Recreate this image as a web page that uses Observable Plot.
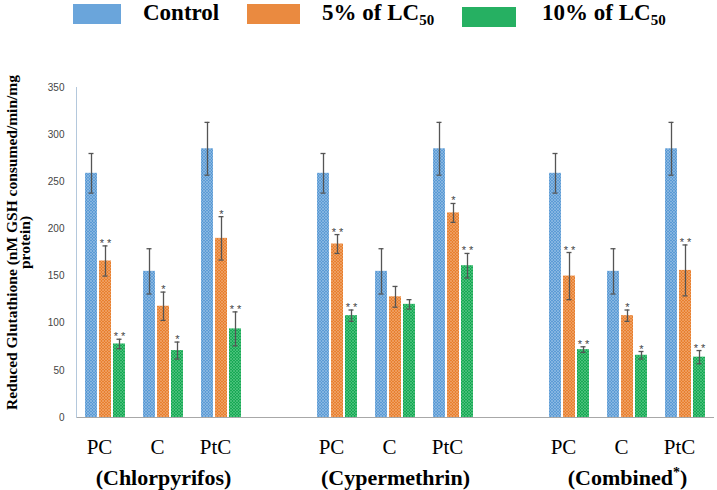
<!DOCTYPE html>
<html>
<head>
<meta charset="utf-8">
<script src="https://cdn.jsdelivr.net/npm/d3@7"></script>
<script src="https://cdn.jsdelivr.net/npm/@observablehq/plot@0.6"></script>
<style>
  html, body { margin: 0; padding: 0; background: #fff; }
  #wrap { width: 717px; height: 490px; position: relative; overflow: hidden; }
  #legend { position: relative; width: 717px; height: 35px; font-family: "Liberation Serif", serif; font-weight: bold; font-size: 23px; color: #000; }
  #legend .sw { position: absolute; width: 50px; height: 20px; }
  #legend .lb { position: absolute; top: 0px; line-height: 26px; white-space: nowrap; }
  #legend sub { font-size: 15px; vertical-align: -5px; line-height: 0; }
</style>
</head>
<body>
<svg width="0" height="0" style="position:absolute">
  <defs>
    <pattern id="pat0" width="3" height="3" patternUnits="userSpaceOnUse">
      <rect width="3" height="3" fill="#5b9bd5"/>
      <path d="M0,0L3,3M0,3L3,0" stroke="#9cc3e8" stroke-width="0.6"/>
    </pattern>
    <pattern id="pat1" width="3" height="3" patternUnits="userSpaceOnUse">
      <rect width="3" height="3" fill="#e8802f"/>
      <path d="M0,0L3,3M0,3L3,0" stroke="#f2ad78" stroke-width="0.6"/>
    </pattern>
    <pattern id="pat2" width="3" height="3" patternUnits="userSpaceOnUse">
      <rect width="3" height="3" fill="#17a954"/>
      <path d="M0,0L3,3M0,3L3,0" stroke="#5fcb8c" stroke-width="0.6"/>
    </pattern>
  </defs>
</svg>
<div id="wrap">
  <div id="legend"></div>
  <div id="chart"></div>
</div>
<script>
// ---- data ----
const groups = ["Chlorpyrifos", "Cypermethrin", "Combined"];
const treatments = ["PC", "C", "PtC"];
const seriesNames = ["Control", "5% of LC50", "10% of LC50"];
const seriesColors = ["#6aa5db", "#ea8a40", "#26b062"];
const seriesFills = ["url(#pat0)", "url(#pat1)", "url(#pat2)"];
const yTicks = [0, 50, 100, 150, 200, 250, 300, 350];

const controlMean = [259, 155, 285];
const controlErr = [21, 24, 28];

const chlor5Mean = [166, 118, 190];
const chlor5Err = [16, 15, 23];
const chlor5Star = ["* *", "*", "*"];
const chlor10Mean = [78, 71, 94];
const chlor10Err = [5, 9, 18];
const chlor10Star = ["* *", "*", "* *"];

const cyper5Mean = [184, 128, 217];
const cyper5Err = [10, 11, 10];
const cyper5Star = ["* *", "", "*"];
const cyper10Mean = [108, 120, 161];
const cyper10Err = [6, 5, 13];
const cyper10Star = ["* *", "", "* *"];

const comb5Mean = [150, 108, 156];
const comb5Err = [25, 6, 27];
const comb5Star = ["* *", "*", "* *"];
const comb10Mean = [72, 66, 64];
const comb10Err = [3, 4, 7];
const comb10Star = ["* *", "*", "* *"];

const groupLabels = ["(Chlorpyrifos)", "(Cypermethrin)", "(Combined*)"];
const yLabel = "Reduced Glutathione (nM GSH consumed/min/mg\nprotein)";

// ---- build table ----
const treated = [
  [[chlor5Mean, chlor5Err, chlor5Star], [chlor10Mean, chlor10Err, chlor10Star]],
  [[cyper5Mean, cyper5Err, cyper5Star], [cyper10Mean, cyper10Err, cyper10Star]],
  [[comb5Mean, comb5Err, comb5Star], [comb10Mean, comb10Err, comb10Star]]
];
const slotKeys = [];
groups.forEach((g, gi) => {
  treatments.forEach(t => slotKeys.push(g + "|" + t));
  if (gi < groups.length - 1) slotKeys.push("gap" + gi);
});
const rows = [];
groups.forEach((g, gi) => {
  treatments.forEach((t, ti) => {
    const slot = g + "|" + t;
    rows.push({slot, series: seriesNames[0], value: controlMean[ti], err: controlErr[ti], star: ""});
    treated[gi].forEach(([m, e, s], si) => {
      rows.push({slot, series: seriesNames[si + 1], value: m[ti], err: e[ti], star: s[ti]});
    });
  });
});
const groupRows = groups.map((g, gi) => ({slot: g + "|C", label: groupLabels[gi]}));

// ---- legend ----
const legend = document.getElementById("legend");
const legendItems = [
  {color: seriesColors[0], sw: [73, 4, 48], lb: 143, html: "Control"},
  {color: seriesColors[1], sw: [247, 4, 53], lb: 322, html: "5% of LC<sub>50</sub>"},
  {color: seriesColors[2], sw: [462, 7, 54], lb: 542, html: "10% of LC<sub>50</sub>"}
];
legendItems.forEach(it => {
  const s = document.createElement("div");
  s.className = "sw";
  s.style.left = it.sw[0] + "px"; s.style.top = it.sw[1] + "px"; s.style.width = it.sw[2] + "px";
  s.style.background = it.color;
  legend.appendChild(s);
  const l = document.createElement("div");
  l.className = "lb";
  l.style.left = it.lb + "px";
  l.innerHTML = it.html;
  legend.appendChild(l);
});

// ---- chart ----
const chart = Plot.plot({
  width: 717,
  height: 455,
  marginLeft: 75,
  marginRight: 2,
  marginTop: 52,
  marginBottom: 73,
  style: {background: "#fff", overflow: "visible"},
  fx: {domain: slotKeys, paddingInner: 0, paddingOuter: 0},
  x: {domain: seriesNames, paddingInner: 0.133, paddingOuter: 0.507, axis: null},
  y: {domain: [0, 350]},
  color: {domain: seriesNames, range: seriesFills},
  marks: [
    Plot.ruleY(slotKeys, {fx: d => d, y: () => 0, stroke: "#a8a8a8"}),
    Plot.frame({anchor: "left", facetAnchor: "left", stroke: "#b4c8dc"}),
    Plot.barY(rows, {fx: "slot", x: "series", y: "value", fill: "series"}),
    Plot.ruleX(rows, {fx: "slot", x: "series", y1: d => d.value - d.err, y2: d => d.value + d.err, stroke: "#555", strokeWidth: 1.3}),
    Plot.tickY(rows, {fx: "slot", x: "series", y: d => d.value + d.err, insetLeft: 3.5, insetRight: 3.5, stroke: "#555", strokeWidth: 1.3}),
    Plot.tickY(rows, {fx: "slot", x: "series", y: d => d.value - d.err, insetLeft: 3.5, insetRight: 3.5, stroke: "#555", strokeWidth: 1.3}),
    Plot.text(rows.filter(d => d.star), {fx: "slot", x: "series", y: d => d.value + d.err, text: "star", lineAnchor: "bottom", dy: 1, fontSize: 11, fill: "#444", fontFamily: "Liberation Sans"}),
    Plot.axisY({ticks: yTicks, facetAnchor: "left", tickSize: 0, tickPadding: 12, fontSize: 10, fontFamily: "Liberation Sans", fill: "#444", label: null}),
    Plot.axisFx({anchor: "bottom", tickSize: 0, tickPadding: 22, dx: -6, fontSize: 21, fontFamily: "Liberation Serif", fill: "#000", label: null,
      tickFormat: k => k.startsWith("gap") ? "" : k.split("|")[1]}),
    Plot.text(groupRows, {fx: "slot", text: "label", frameAnchor: "bottom", dy: 67, lineAnchor: "bottom", fontSize: 22, fontWeight: "bold", fontFamily: "Liberation Serif", fill: "#000"}),
    Plot.text([yLabel], {frameAnchor: "left", facetAnchor: "left", rotate: -90, dx: -69, dy: -10, lineAnchor: "top", textAnchor: "middle", fontSize: 15.5, fontWeight: "bold", fontFamily: "Liberation Serif", fill: "#000", lineHeight: 0.85})
  ]
});
document.getElementById("chart").appendChild(chart);

// superscript asterisk for "(Combined*)"
chart.querySelectorAll("text").forEach(t => {
  if (t.textContent === "(Combined*)") {
    t.textContent = "(Combined";
    const ns = "http://www.w3.org/2000/svg";
    const a = document.createElementNS(ns, "tspan");
    a.setAttribute("dy", "-8"); a.setAttribute("font-size", "14"); a.textContent = "*";
    const b = document.createElementNS(ns, "tspan");
    b.setAttribute("dy", "8"); b.textContent = ")";
    t.appendChild(a); t.appendChild(b);
  }
});
</script>
</body>
</html>
